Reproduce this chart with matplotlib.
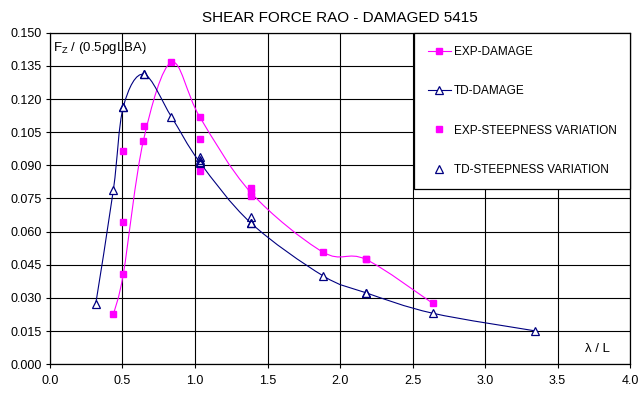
import numpy as np
import matplotlib
matplotlib.use("Agg")
import matplotlib.pyplot as plt
from matplotlib.path import Path
from matplotlib.patches import PathPatch
from matplotlib.lines import Line2D

plt.rcParams['font.family'] = ['Liberation Sans', 'DejaVu Sans']

# measured RAO, damaged hull
exp_x = [0.437, 0.506, 0.644, 0.837, 1.032, 1.384, 1.881, 2.177, 2.639]
exp_y = [0.0226, 0.0410, 0.1011, 0.1366, 0.1120, 0.0778, 0.0508, 0.0475, 0.0276]

# time-domain prediction, damaged hull
td_x = [0.315, 0.437, 0.506, 0.648, 0.837, 1.032, 1.384, 1.881, 2.177, 2.639, 3.347]
td_y = [0.0271, 0.0788, 0.1165, 0.1312, 0.1120, 0.0915, 0.0640, 0.0401, 0.0324, 0.0231, 0.0151]

# wave steepness variation runs
exp_sv_x = [0.506, 0.506, 0.648, 1.032, 1.032, 1.384, 1.384, 2.177]
exp_sv_y = [0.0642, 0.0966, 0.1078, 0.1018, 0.0873, 0.0796, 0.0760, 0.0475]
td_sv_x = [0.506, 0.648, 1.032, 1.032, 1.032, 1.384, 1.384, 2.177]
td_sv_y = [0.1165, 0.1312, 0.0939, 0.0926, 0.0912, 0.0666, 0.0640, 0.0324]

x_ticks = np.arange(0, 4.01, 0.5)
y_ticks = np.arange(0, 0.1501, 0.015)

PINK = '#FF00FF'
NAVY = '#000080'


def smooth_path(xs, ys):
    # Bezier curve through the points, like a spreadsheet "smoothed line"
    pts = np.column_stack([xs, ys])
    n = len(pts)
    verts = [pts[0]]
    codes = [Path.MOVETO]
    for i in range(n - 1):
        p0 = pts[max(i - 1, 0)]
        p1 = pts[i]
        p2 = pts[i + 1]
        p3 = pts[min(i + 2, n - 1)]
        verts += [p1 + (p2 - p0) / 6, p2 - (p3 - p1) / 6, p2]
        codes += [Path.CURVE4] * 3
    return Path(verts, codes)


fig = plt.figure(figsize=(6.39, 3.94), dpi=100)
ax = fig.add_axes([0.0782, 0.0754, 0.9078, 0.8416])

ax.add_patch(PathPatch(smooth_path(exp_x, exp_y), fill=False, edgecolor=PINK, lw=0.8, zorder=3))
ax.add_patch(PathPatch(smooth_path(td_x, td_y), fill=False, edgecolor=NAVY, lw=0.8, zorder=3))

ax.plot(exp_x, exp_y, ls='none', marker='s', ms=5, color=PINK, mec=PINK, zorder=4)
ax.plot(td_x, td_y, ls='none', marker='^', ms=5.5, mfc='white', mec=NAVY, mew=0.9, zorder=4)
ax.plot(exp_sv_x, exp_sv_y, ls='none', marker='s', ms=5, color=PINK, mec=PINK, zorder=5)
ax.plot(td_sv_x, td_sv_y, ls='none', marker='^', ms=5.5, mfc='none', mec=NAVY, mew=0.9, zorder=5)

ax.set_xlim(0, 4.0)
ax.set_ylim(0, 0.150)
ax.set_xticks(x_ticks)
ax.set_yticks(y_ticks)
ax.set_xticklabels([f'{v:.1f}' for v in x_ticks])
ax.set_yticklabels([f'{v:.3f}' for v in y_ticks])
ax.tick_params(direction='out', length=3, width=0.8, labelsize=9, pad=3)
ax.tick_params(axis='x', pad=5)
ax.grid(True, color='black', lw=0.8)
ax.set_axisbelow(True)
for s in ax.spines.values():
    s.set_linewidth(0.9)

ax.set_title('SHEAR FORCE RAO - DAMAGED 5415', fontsize=11, pad=8)
ax.text(0.006, 0.978, r'F$_\mathregular{Z}$ / (0.5ρgLBA)', transform=ax.transAxes,
        fontsize=9.5, va='top', ha='left', zorder=6)
ax.text(0.943, 0.045, 'λ / L', transform=ax.transAxes, fontsize=9.5, ha='center', va='center')

handles = [
    Line2D([], [], color=PINK, lw=0.8, marker='s', ms=5),
    Line2D([], [], color=NAVY, lw=0.8, marker='^', ms=5.5, mfc='white', mew=0.9),
    Line2D([], [], ls='none', color=PINK, marker='s', ms=5),
    Line2D([], [], ls='none', color=NAVY, marker='^', ms=5.5, mfc='none', mew=0.9),
]
labels = ['EXP-DAMAGE', 'TD-DAMAGE', 'EXP-STEEPNESS VARIATION', 'TD-STEEPNESS VARIATION']
leg = ax.legend(handles, labels, loc='upper right', bbox_to_anchor=(1.0, 1.0), fontsize=8.5,
                frameon=True, fancybox=False, framealpha=1, edgecolor='black',
                borderpad=1.15, labelspacing=2.3, handlelength=2.0, handletextpad=0.2,
                borderaxespad=0.0)
leg.get_frame().set_linewidth(0.9)
leg.set_zorder(10)

fig.savefig('out.png', dpi=100)
